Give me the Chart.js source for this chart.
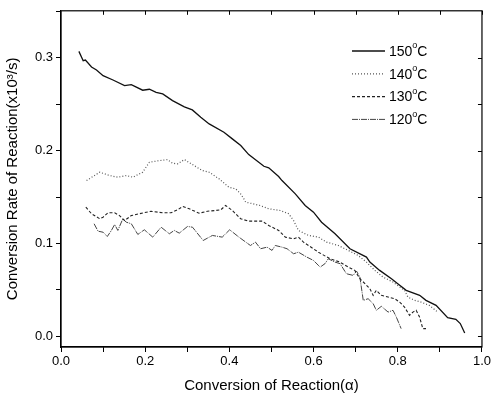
<!DOCTYPE html>
<html>
<head>
<meta charset="utf-8">
<script src="https://cdn.jsdelivr.net/npm/chart.js@4/dist/chart.umd.min.js"></script>
<style>
  html, body { margin: 0; padding: 0; background: #fff; }
  #wrap { width: 493px; height: 399px; position: relative; }
</style>
</head>
<body>
<div id="wrap"><canvas id="chart"></canvas></div>
<script>
// series values (conversion alpha, rate x10^3/s)
var alpha150 = [0.0425,0.0527,0.058,0.0725,0.0843,0.0999,0.1235,0.151,0.167,0.194,0.210,0.226,0.2416,0.265,0.293,0.312,0.332,0.352,0.387,0.407,0.427,0.446,0.482,0.4935,0.517,0.525,0.5566,0.580,0.5998,0.619,0.651,0.6864,0.7256,0.7337,0.757,0.785,0.800,0.820,0.852,0.867,0.891,0.9185,0.938,0.9485,0.959];
var rate150 = [0.3068,0.2968,0.2975,0.290,0.2868,0.2806,0.276,0.270,0.271,0.265,0.266,0.2627,0.261,0.2538,0.247,0.2438,0.2358,0.2287,0.2197,0.2126,0.2054,0.1957,0.1831,0.1814,0.172,0.1677,0.1534,0.1409,0.1337,0.1229,0.1104,0.0943,0.0853,0.0799,0.071,0.062,0.0567,0.0495,0.0441,0.0387,0.0333,0.0201,0.0183,0.0137,0.0035];

var alpha140 = [0.0607,0.092,0.1157,0.135,0.155,0.1707,0.194,0.210,0.2338,0.253,0.265,0.277,0.293,0.316,0.336,0.352,0.3754,0.399,0.415,0.4267,0.4345,0.4385,0.472,0.4935,0.521,0.5407,0.5525,0.564,0.588,0.6115,0.631,0.6588,0.6824,0.706,0.7256,0.7455,0.765,0.7887,0.816,0.824,0.840,0.855,0.875,0.895];
var rate140 = [0.1677,0.1767,0.1731,0.1713,0.1731,0.1713,0.1767,0.1874,0.1892,0.1903,0.1863,0.1857,0.1903,0.1839,0.1785,0.1767,0.1696,0.1605,0.1588,0.1534,0.148,0.1445,0.141,0.1373,0.1355,0.132,0.1247,0.114,0.1086,0.1068,0.1014,0.0978,0.0925,0.0871,0.0799,0.071,0.0638,0.0584,0.0495,0.0423,0.0387,0.0369,0.0333,0.0261];

var alpha130 = [0.059,0.0725,0.092,0.0999,0.1117,0.1275,0.139,0.151,0.167,0.1865,0.214,0.2416,0.2614,0.277,0.289,0.3046,0.328,0.348,0.3676,0.3795,0.391,0.407,0.4267,0.446,0.478,0.4935,0.517,0.533,0.5525,0.564,0.576,0.588,0.6115,0.639,0.6628,0.6824,0.698,0.710,0.722,0.7337,0.7415,0.749,0.761,0.777,0.7927,0.8045,0.816,0.828,0.836,0.8437,0.8517,0.8595,0.867];
var rate130 = [0.139,0.132,0.1266,0.1283,0.133,0.133,0.130,0.1247,0.130,0.132,0.1347,0.133,0.133,0.1362,0.1398,0.1373,0.1326,0.1347,0.1355,0.1362,0.1409,0.1355,0.1266,0.124,0.124,0.1194,0.114,0.1068,0.105,0.1068,0.1014,0.0978,0.0906,0.0835,0.0799,0.0745,0.071,0.062,0.0567,0.0513,0.0441,0.0495,0.0441,0.0423,0.0405,0.0369,0.0315,0.0226,0.0261,0.028,0.0208,0.0083,0.0083];

var alpha120 = [0.0786,0.088,0.0999,0.110,0.1197,0.1275,0.135,0.147,0.155,0.167,0.1825,0.198,0.218,0.2378,0.2574,0.269,0.281,0.3006,0.3124,0.3377,0.3596,0.383,0.4007,0.4227,0.450,0.462,0.474,0.4895,0.5013,0.509,0.525,0.537,0.5525,0.564,0.584,0.5998,0.6156,0.627,0.635,0.651,0.663,0.678,0.694,0.702,0.710,0.718,0.7296,0.7415,0.749,0.761,0.777,0.7887,0.7965,0.808];
var rate120 = [0.1212,0.1132,0.1121,0.1075,0.114,0.1204,0.114,0.1266,0.1229,0.1212,0.1097,0.1147,0.1068,0.1175,0.1104,0.114,0.1111,0.1183,0.1175,0.1032,0.1086,0.1068,0.1147,0.1068,0.0978,0.1014,0.0943,0.096,0.0925,0.0978,0.096,0.0943,0.0889,0.0906,0.0853,0.0817,0.0745,0.0782,0.0835,0.0799,0.0782,0.0674,0.0656,0.0702,0.0638,0.0387,0.0405,0.0352,0.028,0.0323,0.0261,0.028,0.0208,0.0083];

var seriesNames = ['150\u00B0C', '140\u00B0C', '130\u00B0C', '120\u00B0C'];
var xTicks = [0.0, 0.2, 0.4, 0.6, 0.8, 1.0];
var yTicks = [0.0, 0.1, 0.2, 0.3];

function pts(xs, ys) {
  return xs.map(function (x, i) { return { x: x, y: ys[i] }; });
}

var FONT = '"Liberation Sans", Arial, sans-serif';

// frame, inward mirror ticks and the legend
var framePlugin = {
  id: 'frame',
  afterDraw: function (chart) {
    var ctx = chart.ctx, a = chart.chartArea;
    var xs = chart.scales.x, ys = chart.scales.y;
    ctx.save();
    ctx.strokeStyle = '#000';
    ctx.lineWidth = 1.2;
    ctx.strokeRect(a.left, a.top, a.right - a.left, a.bottom - a.top);
    ctx.lineWidth = 1;
    ctx.beginPath();
    for (var v = 0.1; v < 1.0; v += 0.1) {
      var px = Math.round(xs.getPixelForValue(v)) + 0.5;
      ctx.moveTo(px, a.top); ctx.lineTo(px, a.top + 4);
    }
    for (var w = 0; w < 0.35; w += 0.05) {
      var py = Math.round(ys.getPixelForValue(w)) + 0.5;
      ctx.moveTo(a.right, py); ctx.lineTo(a.right - 4, py);
    }
    ctx.stroke();

    // legend
    var lx0 = 352, lx1 = 385, ly = 51;
    ctx.font = '14px ' + FONT;
    ctx.textBaseline = 'middle';
    chart.data.datasets.forEach(function (ds, i) {
      var y = ly + i * 22.8;
      ctx.strokeStyle = ds.borderColor;
      ctx.lineWidth = ds.borderWidth;
      ctx.setLineDash(ds.borderDash || []);
      ctx.beginPath();
      ctx.moveTo(lx0, y); ctx.lineTo(lx1, y);
      ctx.stroke();
      ctx.setLineDash([]);
      ctx.fillStyle = '#000';
      var parts = ds.label.split('\u00B0');
      ctx.fillText(parts[0], 389, y + 1);
      var wNum = ctx.measureText(parts[0]).width;
      ctx.font = '9px ' + FONT;
      ctx.fillText('o', 389 + wNum, y - 5);
      ctx.font = '14px ' + FONT;
      ctx.fillText('C', 389 + wNum + 5, y + 1);
    });
    ctx.restore();
  }
};

new Chart(document.getElementById('chart'), {
  type: 'scatter',
  data: {
    datasets: [
      { label: seriesNames[0], data: pts(alpha150, rate150), borderColor: '#111', borderWidth: 1.3 },
      { label: seriesNames[1], data: pts(alpha140, rate140), borderColor: '#555', borderWidth: 1.2, borderDash: [1, 2] },
      { label: seriesNames[2], data: pts(alpha130, rate130), borderColor: '#222', borderWidth: 1.1, borderDash: [3, 2] },
      { label: seriesNames[3], data: pts(alpha120, rate120), borderColor: '#444', borderWidth: 1, borderDash: [6, 1, 1, 1] }
    ].map(function (d) {
      d.showLine = true; d.pointRadius = 0; d.fill = false; d.tension = 0;
      return d;
    })
  },
  options: {
    responsive: true,
    maintainAspectRatio: false,
    animation: false,
    layout: { padding: { top: 10, right: 8, left: 0, bottom: 0 } },
    plugins: { legend: { display: false }, tooltip: { enabled: false } },
    scales: {
      x: {
        type: 'linear', min: 0, max: 1.0,
        afterFit: function (s) { s.height = 52; },
        border: { display: true, color: '#000', width: 1.2 },
        grid: { display: true, drawOnChartArea: false, drawTicks: true, tickLength: 5, color: '#000' },
        ticks: {
          stepSize: 0.1, color: '#000', padding: 2, maxRotation: 0, autoSkip: false,
          font: { family: FONT, size: 13 },
          callback: function (v) {
            var r = Math.round(v * 10);
            return r % 2 === 0 ? xTicks[r / 2].toFixed(1) : '';
          }
        },
        title: { display: true, text: 'Conversion of Reaction(\u03B1)', color: '#000', font: { family: FONT, size: 15 }, padding: { top: 3 } }
      },
      y: {
        type: 'linear', min: -0.0115, max: 0.3505,
        afterFit: function (s) { s.width = 61; },
        border: { display: true, color: '#000', width: 1.2 },
        grid: { display: true, drawOnChartArea: false, drawTicks: true, tickLength: 5, color: '#000' },
        ticks: {
          stepSize: 0.05, includeBounds: false, color: '#000', padding: 3,
          font: { family: FONT, size: 13 },
          callback: function (v) {
            var r = Math.round(v * 20);
            return r % 2 === 0 ? yTicks[r / 2].toFixed(1) : '';
          }
        },
        title: { display: true, text: 'Conversion Rate of Reaction(x10\u00B3/s)', color: '#000', font: { family: FONT, size: 15 }, padding: { bottom: 2 } }
      }
    }
  },
  plugins: [framePlugin]
});
</script>
</body>
</html>
